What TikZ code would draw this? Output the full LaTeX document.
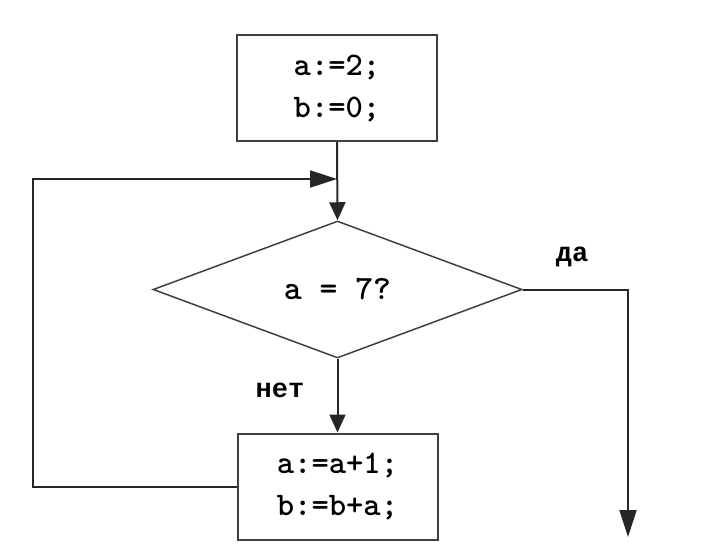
\documentclass[tikz,border=0pt]{standalone}
\usepackage{fontspec}
\newfontfamily\cyrmono{Liberation Mono}
\usetikzlibrary{arrows.meta,shapes.geometric}
\begin{document}
\begin{tikzpicture}[x=1pt,y=-1pt,
  box/.style={draw=black!75, line width=2pt, minimum width=200pt, minimum height=106pt, inner sep=0pt, align=center, font=\ttfamily\bfseries\fontsize{33}{42}\selectfont},
  decision/.style={diamond, draw=black!75, line width=1.5pt, minimum width=369pt, minimum height=137pt, shape aspect=2.69, inner sep=0pt, font=\ttfamily\bfseries\fontsize{34}{42}\selectfont},
  lbl/.style={font=\cyrmono\bfseries\fontsize{27}{30}\selectfont, inner sep=0pt},
  conn/.style={draw=black!85, line width=2pt},
  bigtip/.style={-{Triangle[length=27pt,width=17pt]}},
  smalltip/.style={-{Triangle[length=18pt,width=16pt]}}]
\useasboundingbox[fill=white] (0,0) rectangle (706,550);
\node[box] (init) at (337,88) {a:=2;\\b:=0;};
\node[decision] (dec) at (337.5,289.5) {a = 7?};
\node[box] (body) at (337.5,486.5) {a:=a+1;\\b:=b+a;};
\node[lbl] (yes) at (572,257) {да};
\node[lbl] (no) at (280,390) {нет};
\coordinate (merge) at (337,179);
\coordinate (yesend) at (628,537);
\draw[conn,smalltip] (init.south) -- (dec.north);
\draw[conn,smalltip] (dec.south) -- (body.north);
\draw[conn,bigtip] (dec.east) -| (yesend);
\draw[conn,bigtip] (body.west) -- (33,486.5) |- (merge);
\end{tikzpicture}
\end{document}
